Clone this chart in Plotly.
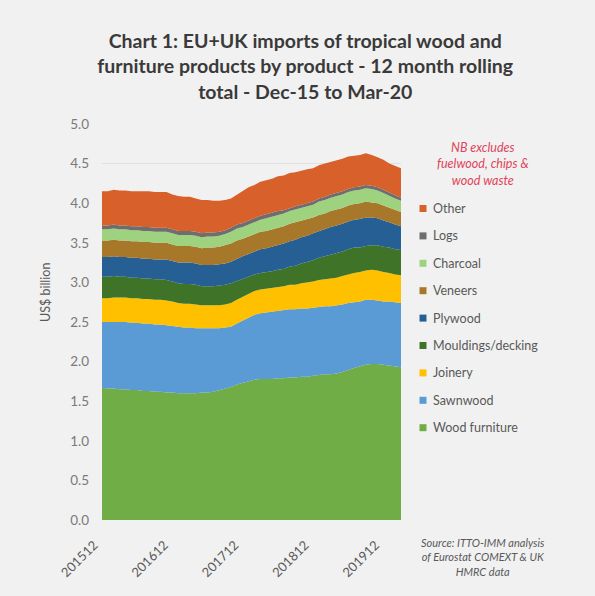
import plotly.graph_objects as go

# Monthly 12-month rolling totals, Dec-2015 .. Mar-2020 (US$ billion)
months = [f"{y}{m:02d}" for y in range(2015, 2021) for m in range(1, 13)]
months = months[months.index("201512"):months.index("202003") + 1]

wood_furniture = [1.67, 1.66, 1.66, 1.65, 1.65, 1.64, 1.64, 1.63, 1.63, 1.62, 1.62, 1.61, 1.61,
                  1.60, 1.60, 1.60, 1.60, 1.61, 1.61, 1.62, 1.64, 1.66, 1.68, 1.71, 1.73, 1.75,
                  1.77, 1.78, 1.78, 1.78, 1.79, 1.79, 1.80, 1.80, 1.81, 1.81, 1.82, 1.83, 1.84,
                  1.84, 1.85, 1.87, 1.90, 1.92, 1.94, 1.96, 1.97, 1.97, 1.96, 1.95, 1.94, 1.93]
sawnwood = [0.83, 0.84, 0.84, 0.85, 0.85, 0.85, 0.85, 0.85, 0.85, 0.85, 0.85, 0.85, 0.84,
            0.84, 0.83, 0.83, 0.82, 0.81, 0.81, 0.80, 0.78, 0.77, 0.76, 0.77, 0.79, 0.81,
            0.82, 0.83, 0.84, 0.85, 0.85, 0.86, 0.86, 0.86, 0.86, 0.86, 0.86, 0.86, 0.86,
            0.86, 0.86, 0.85, 0.84, 0.83, 0.82, 0.82, 0.81, 0.80, 0.80, 0.81, 0.81, 0.81]
joinery = [0.30, 0.30, 0.31, 0.31, 0.31, 0.31, 0.31, 0.31, 0.31, 0.31, 0.31, 0.31, 0.31,
           0.30, 0.30, 0.30, 0.30, 0.29, 0.29, 0.29, 0.29, 0.29, 0.30, 0.30, 0.30, 0.30,
           0.30, 0.30, 0.30, 0.30, 0.30, 0.30, 0.31, 0.31, 0.32, 0.33, 0.33, 0.34, 0.34,
           0.35, 0.35, 0.36, 0.36, 0.37, 0.37, 0.37, 0.38, 0.38, 0.37, 0.36, 0.35, 0.35]
mouldings = [0.27, 0.27, 0.27, 0.26, 0.26, 0.26, 0.26, 0.26, 0.26, 0.26, 0.26, 0.26, 0.25,
             0.25, 0.25, 0.25, 0.25, 0.24, 0.24, 0.24, 0.25, 0.25, 0.25, 0.24, 0.23, 0.21,
             0.21, 0.21, 0.21, 0.21, 0.22, 0.22, 0.23, 0.24, 0.25, 0.26, 0.27, 0.28, 0.29,
             0.30, 0.31, 0.31, 0.32, 0.32, 0.31, 0.31, 0.31, 0.32, 0.32, 0.32, 0.32, 0.32]
plywood = [0.25, 0.25, 0.25, 0.25, 0.25, 0.25, 0.25, 0.25, 0.25, 0.25, 0.25, 0.26, 0.26,
           0.26, 0.27, 0.27, 0.27, 0.27, 0.27, 0.27, 0.27, 0.27, 0.27, 0.28, 0.28, 0.29,
           0.29, 0.30, 0.30, 0.31, 0.31, 0.32, 0.32, 0.33, 0.33, 0.33, 0.34, 0.34, 0.34,
           0.35, 0.35, 0.35, 0.35, 0.35, 0.36, 0.36, 0.35, 0.34, 0.33, 0.32, 0.31, 0.30]
veneers = [0.21, 0.21, 0.21, 0.21, 0.21, 0.21, 0.21, 0.21, 0.21, 0.21, 0.21, 0.21, 0.21,
           0.21, 0.21, 0.21, 0.21, 0.21, 0.22, 0.22, 0.22, 0.23, 0.23, 0.23, 0.22, 0.22,
           0.22, 0.22, 0.22, 0.22, 0.22, 0.22, 0.22, 0.22, 0.21, 0.21, 0.20, 0.20, 0.20,
           0.20, 0.20, 0.20, 0.20, 0.20, 0.20, 0.20, 0.19, 0.19, 0.19, 0.18, 0.18, 0.18]
charcoal = [0.14, 0.14, 0.14, 0.14, 0.14, 0.14, 0.14, 0.14, 0.14, 0.14, 0.14, 0.14, 0.14,
            0.14, 0.14, 0.14, 0.14, 0.14, 0.14, 0.14, 0.14, 0.14, 0.15, 0.15, 0.15, 0.15,
            0.15, 0.15, 0.16, 0.16, 0.16, 0.16, 0.16, 0.16, 0.16, 0.16, 0.16, 0.17, 0.17,
            0.17, 0.17, 0.17, 0.17, 0.17, 0.17, 0.17, 0.17, 0.16, 0.16, 0.15, 0.15, 0.14]
logs = [0.05, 0.05, 0.05, 0.05, 0.05, 0.05, 0.05, 0.05, 0.05, 0.05, 0.05, 0.05, 0.05,
        0.05, 0.05, 0.05, 0.05, 0.05, 0.05, 0.05, 0.05, 0.05, 0.05, 0.05, 0.05, 0.05,
        0.05, 0.05, 0.05, 0.05, 0.05, 0.04, 0.04, 0.04, 0.04, 0.04, 0.04, 0.04, 0.04,
        0.04, 0.04, 0.04, 0.04, 0.04, 0.04, 0.04, 0.04, 0.04, 0.04, 0.04, 0.04, 0.04]
other = [0.43, 0.43, 0.44, 0.44, 0.44, 0.44, 0.44, 0.45, 0.45, 0.45, 0.45, 0.45, 0.44,
         0.44, 0.43, 0.43, 0.42, 0.42, 0.41, 0.40, 0.39, 0.38, 0.37, 0.38, 0.40, 0.42,
         0.42, 0.43, 0.43, 0.43, 0.44, 0.44, 0.44, 0.43, 0.43, 0.43, 0.42, 0.42, 0.42,
         0.41, 0.41, 0.41, 0.41, 0.40, 0.40, 0.40, 0.39, 0.38, 0.38, 0.37, 0.37, 0.37]

tick_labels = ["201512", "201612", "201712", "201812", "201912"]

series = [
    ("Wood furniture", wood_furniture, "#70AD47"),
    ("Sawnwood", sawnwood, "#5B9BD5"),
    ("Joinery", joinery, "#FFC000"),
    ("Mouldings/decking", mouldings, "#3F7428"),
    ("Plywood", plywood, "#265F93"),
    ("Veneers", veneers, "#A8782A"),
    ("Charcoal", charcoal, "#9ED27E"),
    ("Logs", logs, "#6E6E6E"),
    ("Other", other, "#D8602A"),
]

FONT = "Lato"
W, H = 595, 596
L, R, T, B = 102, 194, 124, 76
PW, PH = W - L - R, H - T - B


def px_x(px):
    return (px - L) / PW


def px_y(py):
    return (H - B - py) / PH


idx = list(range(len(months)))

fig = go.Figure()
for name, vals, col in series:
    fig.add_trace(go.Scatter(
        x=idx, y=vals, name=name, mode="lines", stackgroup="one",
        line=dict(width=0, color=col), fillcolor=col, showlegend=False,
        customdata=months, hovertemplate="%{customdata}: %{y:.2f}<extra>" + name + "</extra>",
    ))

tickvals = [months.index(t) for t in tick_labels]

# Key on the right, top entry = top layer of the stack
shapes, annotations = [], []
for k, (name, _vals, col) in enumerate(reversed(series)):
    cy = 208.5 + 27.4 * k
    shapes.append(dict(type="rect", xref="paper", yref="paper",
                       x0=px_x(419.5), x1=px_x(426.5), y0=px_y(cy + 3.5), y1=px_y(cy - 3.5),
                       fillcolor=col, line=dict(width=0)))
    annotations.append(dict(text=name, xref="paper", yref="paper",
                            x=px_x(431), y=px_y(cy), xanchor="left", yanchor="middle",
                            showarrow=False, font=dict(size=12.5, color="#595959", family=FONT)))

annotations += [
    dict(text="US$ billion", textangle=-90, xref="paper", yref="paper",
         x=px_x(45), y=px_y(293), xanchor="center", yanchor="middle", showarrow=False,
         font=dict(size=12.5, color="#595959", family=FONT)),
    dict(text="<i>NB excludes<br>fuelwood, chips &<br>wood waste</i>",
         xref="paper", yref="paper", x=px_x(483), y=px_y(164),
         xanchor="center", yanchor="middle", showarrow=False, align="center",
         font=dict(size=12.5, color="#E0445A", family=FONT)),
    dict(text="<i>Source: ITTO-IMM analysis<br>of Eurostat COMEXT & UK<br>HMRC data</i>",
         xref="paper", yref="paper", x=px_x(483), y=px_y(557),
         xanchor="center", yanchor="middle", showarrow=False, align="center",
         font=dict(size=11, color="#595959", family=FONT)),
]

fig.update_layout(
    width=W, height=H,
    margin=dict(l=L, r=R, t=T, b=B),
    paper_bgcolor="#F1F1F1", plot_bgcolor="#F1F1F1",
    font=dict(family=FONT, color="#595959"),
    title=dict(
        text="<b>Chart 1: EU+UK imports of tropical wood and<br>furniture products by product - 12 month rolling<br>total - Dec-15 to Mar-20</b>",
        x=0.513, xanchor="center", xref="container",
        y=1 - 48 / H, yanchor="top", yref="container",
        font=dict(size=19.5, family=FONT, color="#3A3A3A"),
    ),
    xaxis=dict(
        range=[0, len(months) - 1], tickvals=tickvals, ticktext=tick_labels,
        tickangle=-45, showgrid=False, zeroline=False, showline=False,
        tickfont=dict(size=13, color="#595959"),
        ticklabelshift=-8, ticklabelstandoff=14,
    ),
    yaxis=dict(
        range=[0, 5], dtick=0.5, tickformat=".1f",
        showgrid=True, gridcolor="#E0E0E0", gridwidth=1, zeroline=False,
        tickfont=dict(size=13.5, color="#7A7A7A"), ticklabelstandoff=12,
    ),
    showlegend=False,
    shapes=shapes,
    annotations=annotations,
)

fig.write_html("out.html")
